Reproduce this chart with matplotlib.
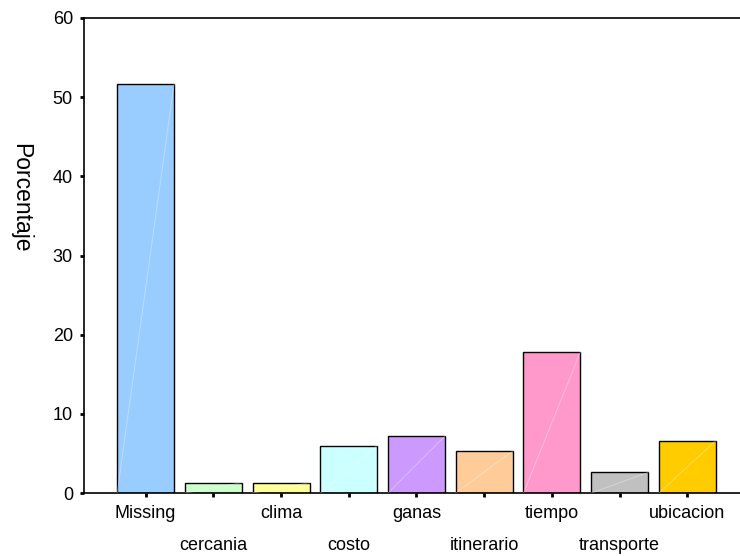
import matplotlib
matplotlib.use("Agg")
import matplotlib.pyplot as plt

categories = ["Missing", "cercania", "clima", "costo", "ganas",
              "itinerario", "tiempo", "transporte", "ubicacion"]
values = [51.7, 1.3, 1.3, 6.0, 7.2, 5.3, 17.8, 2.6, 6.6]
colors = ["#99CCFF", "#CCFFCC", "#FFFF99", "#CCFFFF", "#CC99FF",
          "#FFCC99", "#FF99CC", "#C0C0C0", "#FFCC00"]
yticks = [0, 10, 20, 30, 40, 50, 60]

plt.rcParams['font.family'] = ['Liberation Sans', 'DejaVu Sans']

fig = plt.figure(figsize=(7.4, 5.56), dpi=100)
ax = fig.add_axes([84/740, 63/556, (749-84)/740, (493-18)/556])

x = list(range(len(categories)))
width = 0.84
ax.bar(x, values, width=width, color=colors, edgecolor="black", linewidth=1.0, zorder=2)
for xi, v in zip(x, values):
    ax.plot([xi - width/2, xi + width/2], [0, v], color="white", alpha=0.3,
            lw=0.8, zorder=3)

ax.set_xlim(-0.91, 8.91)
ax.set_ylim(0, 60)
ax.set_yticks(yticks)
ax.set_yticklabels([str(t) for t in yticks])
ax.set_xticks(x)
ax.set_xticklabels(categories)

for s in ax.spines.values():
    s.set_linewidth(1.2)
    s.set_color("black")

ax.tick_params(axis="y", direction="out", length=3, width=2, pad=5, labelsize=13)
ax.tick_params(axis="x", direction="out", length=3, width=2, pad=6, labelsize=13)
for i, t in enumerate(ax.xaxis.get_major_ticks()):
    if i % 2 == 1:
        t.set_pad(29)

ax.set_ylabel("Porcentaje", rotation=-90, fontsize=16.5, va="center")
ax.yaxis.set_label_coords((21-84)/(749-84), 0.621)

fig.savefig("out.png", dpi=100)
